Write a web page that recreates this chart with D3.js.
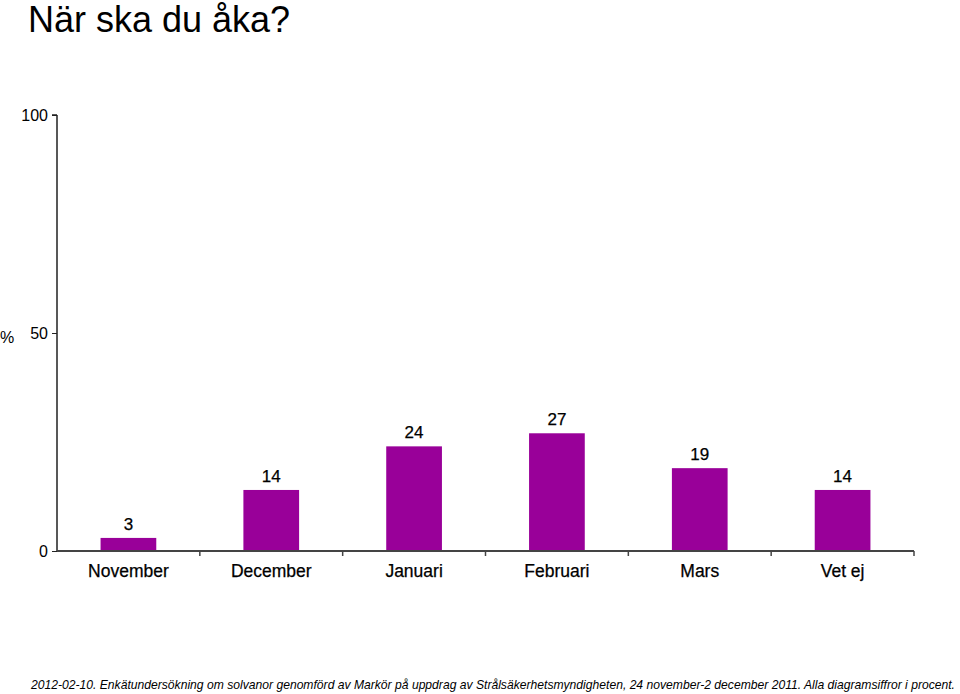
<!DOCTYPE html>
<html><head><meta charset="utf-8">
<script src="https://cdn.jsdelivr.net/npm/d3@7"></script>
<style>body{margin:0;background:#fff}svg{display:block;font-family:"Liberation Sans",Arial,sans-serif}</style>
</head><body><svg id="c" width="960" height="694"></svg>
<script>
const categories = ["November","December","Januari","Februari","Mars","Vet ej"];
const values = [3,14,24,27,19,14];
const yTicks = [0,50,100];
const title = "När ska du åka?";
const footnote = "2012-02-10. Enkätundersökning om solvanor genomförd av Markör på uppdrag av Strålsäkerhetsmyndigheten, 24 november-2 december 2011.  Alla diagramsiffror i procent.";

const svg = d3.select("#c");
const x0 = 57, x1 = 914, yTop = 115, yBot = 551;
const x = d3.scaleBand().domain(categories).range([x0,x1]).paddingInner(0).paddingOuter(0);
const y = d3.scaleLinear().domain([0,100]).range([yBot,yTop]);
const barW = x.bandwidth()*0.39;

svg.append("text").attr("x",28).attr("y",32).attr("font-size",36).attr("fill","#000").text(title);

// bars
svg.selectAll("rect.bar").data(values).enter().append("rect")
  .attr("x",(d,i)=>x(categories[i])+x.bandwidth()/2-barW/2)
  .attr("y",d=>y(d)).attr("width",barW).attr("height",d=>yBot-y(d))
  .attr("fill","#990099");

svg.selectAll("text.val").data(values).enter().append("text")
  .attr("x",(d,i)=>x(categories[i])+x.bandwidth()/2)
  .attr("y",d=>y(d)-8).attr("text-anchor","middle").attr("font-size",17).attr("fill","#000")
  .attr("stroke","#000").attr("stroke-width",0.25)
  .text(d=>d);

// y axis
const ya = d3.axisLeft(y).tickValues(yTicks).tickSize(5).tickPadding(4);
const gy = svg.append("g").attr("transform",`translate(${x0},0)`).call(ya);
gy.select(".domain").attr("d",`M0,${yTop}H-5M0,${yTop}V${yBot}`).attr("stroke","#222").attr("stroke-width",1.5);
gy.selectAll(".tick line").attr("stroke","#222");
gy.selectAll(".tick text").attr("font-size",16).attr("fill","#000").attr("font-family","Liberation Sans, Arial, sans-serif");

// x axis
const xa = d3.axisBottom(x).tickSize(0).tickPadding(14);
const gx = svg.append("g").attr("transform",`translate(0,${yBot})`).call(xa);
gx.select(".domain").attr("d",`M${x0},0H${x1}`).attr("stroke","#444").attr("stroke-width",2);
gx.selectAll(".tick text").attr("font-size",17.5).attr("fill","#000").attr("stroke","#000").attr("stroke-width",0.25).attr("font-family","Liberation Sans, Arial, sans-serif");
// category boundary ticks
const bounds = categories.slice(1).map(c=>x(c)).concat([x1]);
svg.selectAll("line.bt").data(bounds).enter().append("line")
  .attr("x1",d=>d).attr("x2",d=>d).attr("y1",yBot).attr("y2",yBot+5).attr("stroke","#444").attr("stroke-width",1.5);

svg.append("text").attr("x",0).attr("y",343).attr("font-size",16).attr("fill","#000").text("%");

svg.append("text").attr("x",31).attr("y",689).attr("font-size",12.1).attr("font-style","italic").attr("fill","#000")
  .attr("textLength",924).attr("lengthAdjust","spacingAndGlyphs").text(footnote);
</script></body></html>
